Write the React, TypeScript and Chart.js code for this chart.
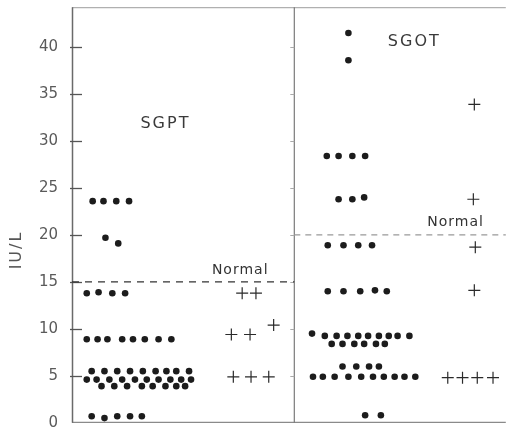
import { useEffect, useRef } from "react";
import { Chart, registerables } from "chart.js";

Chart.register(...registerables);

// ---- data (x = column position within panel, y = IU/L) ----
const yTickValues = [0, 5, 10, 15, 20, 25, 30, 35, 40];
const panelNames = ["SGPT", "SGOT"];
const normalLimits = [15, 20];
const normalLabel = "Normal";
const yAxisTitle = "IU/L";

const sgptDotX = [
  2.1, 3.2, 4.5, 5.8,
  3.4, 4.7,
  1.5, 2.7, 4.1, 5.4,
  1.5, 2.6, 3.6, 5.1, 6.2, 7.4, 8.8, 10.1,
  2.0, 3.3, 4.6, 5.9, 7.2, 8.5, 9.6, 10.6, 11.9,
  1.5, 2.5, 3.8, 5.1, 6.4, 7.6, 8.8, 10.0, 11.1, 12.1,
  3.0, 4.3, 5.6, 7.1, 8.2, 9.5, 10.6, 11.5,
  2.0, 3.3, 4.6, 5.9, 7.1,
];
const sgptDotY = [
  23.6, 23.6, 23.6, 23.6,
  19.7, 19.1,
  13.8, 13.9, 13.8, 13.8,
  8.9, 8.9, 8.9, 8.9, 8.9, 8.9, 8.9, 8.9,
  5.5, 5.5, 5.5, 5.5, 5.5, 5.5, 5.5, 5.5, 5.5,
  4.6, 4.6, 4.6, 4.6, 4.6, 4.6, 4.6, 4.6, 4.6, 4.6,
  3.9, 3.9, 3.9, 3.9, 3.9, 3.9, 3.9, 3.9,
  0.7, 0.5, 0.7, 0.7, 0.7,
];
const sgptPlusX = [17.3, 18.7, 16.2, 18.1, 20.5, 16.4, 18.2, 20.0];
const sgptPlusY = [13.8, 13.8, 9.4, 9.4, 10.4, 4.9, 4.9, 4.9];

const sgotDotX = [
  28.1, 28.1,
  25.9, 27.1, 28.5, 29.8,
  27.1, 28.5, 29.7,
  26.0, 27.6, 29.1, 30.5,
  26.0, 27.6, 29.3, 30.8, 32.0,
  24.4, 25.7, 26.9, 28.0, 29.1, 30.1, 31.2, 32.2, 33.1, 34.3,
  26.4, 27.5, 28.7, 29.7, 30.9, 31.8,
  27.5, 28.9, 30.2, 31.2,
  24.5, 25.5, 26.7, 28.1, 29.4, 30.6, 31.7, 32.8, 33.8, 34.9,
  29.8, 31.4,
];
const sgotDotY = [
  41.5, 38.6,
  28.4, 28.4, 28.4, 28.4,
  23.8, 23.8, 24.0,
  18.9, 18.9, 18.9, 18.9,
  14.0, 14.0, 14.0, 14.1, 14.0,
  9.5, 9.25, 9.25, 9.25, 9.25, 9.25, 9.25, 9.25, 9.25, 9.25,
  8.4, 8.4, 8.4, 8.4, 8.4, 8.4,
  6.0, 6.0, 6.0, 6.0,
  4.9, 4.9, 4.9, 4.9, 4.9, 4.9, 4.9, 4.9, 4.9, 4.9,
  0.8, 0.8,
];
const sgotPlusX = [40.9, 40.8, 41.0, 40.9, 38.2, 39.7, 41.2, 42.8];
const sgotPlusY = [33.9, 23.8, 18.7, 14.1, 4.8, 4.8, 4.8, 4.8];

const zip = (xs: number[], ys: number[]) => xs.map((x, i) => ({ x, y: ys[i] }));

// ---- layout constants (not data) ----
const X_MIN = 0;
const X_MAX = 44.1;
const Y_MIN = 0;
const Y_MAX = 44.25;
const DIVIDER_X = 22.6;
const PANEL_LABEL_POS = [
  { x: 9.5, y: 31.8 },
  { x: 34.8, y: 40.55 },
];
const NORMAL_LABEL_POS = [
  { x: 17.1, y: 16.2 },
  { x: 39.0, y: 21.3 },
];
const FONT = "'DejaVu Sans', sans-serif";

const overlay = {
  id: "overlay",
  beforeDatasetsDraw(chart: any) {
    const { ctx, chartArea, scales } = chart;
    const xs = scales.x;
    const ys = scales.y;
    const { left, right, top, bottom } = chartArea;
    const divPx = xs.getPixelForValue(DIVIDER_X);
    ctx.save();
    // top border
    ctx.strokeStyle = "#b0b0b0";
    ctx.lineWidth = 1.2;
    ctx.beginPath();
    ctx.moveTo(left, top + 0.5);
    ctx.lineTo(right, top + 0.5);
    ctx.stroke();
    // bottom border
    ctx.strokeStyle = "#8a8a8a";
    ctx.beginPath();
    ctx.moveTo(left, bottom - 0.5);
    ctx.lineTo(right, bottom - 0.5);
    ctx.stroke();
    // left axis
    ctx.strokeStyle = "#6a6a6a";
    ctx.lineWidth = 1.5;
    ctx.beginPath();
    ctx.moveTo(left + 0.5, top);
    ctx.lineTo(left + 0.5, bottom);
    ctx.stroke();
    // divider
    ctx.strokeStyle = "#7a7a7a";
    ctx.lineWidth = 1.2;
    ctx.beginPath();
    ctx.moveTo(divPx, top);
    ctx.lineTo(divPx, bottom);
    ctx.stroke();
    // tick marks on left axis (inside)
    ctx.strokeStyle = "#555";
    ctx.lineWidth = 1.3;
    yTickValues.forEach((v) => {
      if (v === 0) return;
      const py = Math.round(ys.getPixelForValue(v)) + 0.5;
      ctx.beginPath();
      ctx.moveTo(left - 2, py);
      ctx.lineTo(left + 10, py);
      ctx.stroke();
    });
    // small outward ticks on divider
    ctx.strokeStyle = "#aaa";
    ctx.lineWidth = 1;
    yTickValues.forEach((v) => {
      if (v === 0) return;
      const py = Math.round(ys.getPixelForValue(v)) + 0.5;
      ctx.beginPath();
      ctx.moveTo(divPx - 4, py);
      ctx.lineTo(divPx, py);
      ctx.stroke();
    });
    // normal limit dashed lines
    const n1 = ys.getPixelForValue(normalLimits[0]);
    ctx.setLineDash([7, 6]);
    ctx.strokeStyle = "#333";
    ctx.lineWidth = 1.2;
    ctx.beginPath();
    ctx.moveTo(left, n1);
    ctx.lineTo(divPx, n1);
    ctx.stroke();
    const n2 = ys.getPixelForValue(normalLimits[1]);
    ctx.setLineDash([6, 5]);
    ctx.strokeStyle = "#999";
    ctx.beginPath();
    ctx.moveTo(divPx, n2);
    ctx.lineTo(right, n2);
    ctx.stroke();
    ctx.restore();
  },
  afterDatasetsDraw(chart: any) {
    const { ctx, scales } = chart;
    const xs = scales.x;
    const ys = scales.y;
    ctx.save();
    ctx.textAlign = "center";
    ctx.textBaseline = "middle";
    // panel labels
    ctx.fillStyle = "#3a3a3a";
    ctx.font = `16px ${FONT}`;
    (ctx as any).letterSpacing = "2px";
    panelNames.forEach((name, i) => {
      ctx.fillText(name, xs.getPixelForValue(PANEL_LABEL_POS[i].x), ys.getPixelForValue(PANEL_LABEL_POS[i].y));
    });
    // normal labels
    ctx.font = `14px ${FONT}`;
    (ctx as any).letterSpacing = "1px";
    ctx.fillStyle = "#333";
    NORMAL_LABEL_POS.forEach((p) => {
      ctx.fillText(normalLabel, xs.getPixelForValue(p.x), ys.getPixelForValue(p.y));
    });
    // y axis title
    ctx.translate(17, 250);
    ctx.rotate(-Math.PI / 2);
    ctx.font = `16px ${FONT}`;
    (ctx as any).letterSpacing = "2px";
    ctx.fillStyle = "#555";
    ctx.fillText(yAxisTitle, 0, 0);
    ctx.restore();
  },
};

export default function App() {
  const ref = useRef<HTMLCanvasElement | null>(null);
  useEffect(() => {
    if (!ref.current) return;
    const dot = {
      pointStyle: "circle",
      pointRadius: 3.3,
      backgroundColor: "#1c1c1c",
      borderColor: "#1c1c1c",
      borderWidth: 0,
    };
    const plus = {
      pointStyle: "cross",
      pointRadius: 6,
      backgroundColor: "#2a2a2a",
      borderColor: "#2a2a2a",
      borderWidth: 1.2,
    };
    const chart = new Chart(ref.current, {
      type: "scatter",
      data: {
        datasets: [
          { label: "SGPT", data: zip(sgptDotX, sgptDotY), ...dot },
          { label: "SGPT +", data: zip(sgptPlusX, sgptPlusY), ...plus },
          { label: "SGOT", data: zip(sgotDotX, sgotDotY), ...dot },
          { label: "SGOT +", data: zip(sgotPlusX, sgotPlusY), ...plus },
        ] as any,
      },
      options: {
        animation: false,
        responsive: false,
        layout: { padding: { top: 6, right: 0, bottom: 5.5, left: 0 } },
        plugins: { legend: { display: false }, tooltip: { enabled: false } },
        scales: {
          x: { type: "linear", min: X_MIN, max: X_MAX, display: false },
          y: {
            type: "linear",
            min: Y_MIN,
            max: Y_MAX,
            grid: { display: false },
            border: { display: false },
            afterFit: (s: any) => {
              s.width = 72;
              s.paddingTop = 0;
              s.paddingBottom = 0;
            },
            afterBuildTicks: (s: any) => {
              s.ticks = yTickValues.map((v) => ({ value: v }));
            },
            ticks: {
              padding: 6,
              color: "#5a5a5a",
              font: { family: FONT, size: 15 },
              callback: (v: any) => String(v),
            },
          },
        },
      },
      plugins: [overlay],
    });
    return () => chart.destroy();
  }, []);
  return (
    <div style={{ position: "absolute", left: 0, top: 0, width: 513, height: 430, background: "#fff" }}>
      <canvas ref={ref} width={513} height={430} style={{ display: "block" }} />
    </div>
  );
}
